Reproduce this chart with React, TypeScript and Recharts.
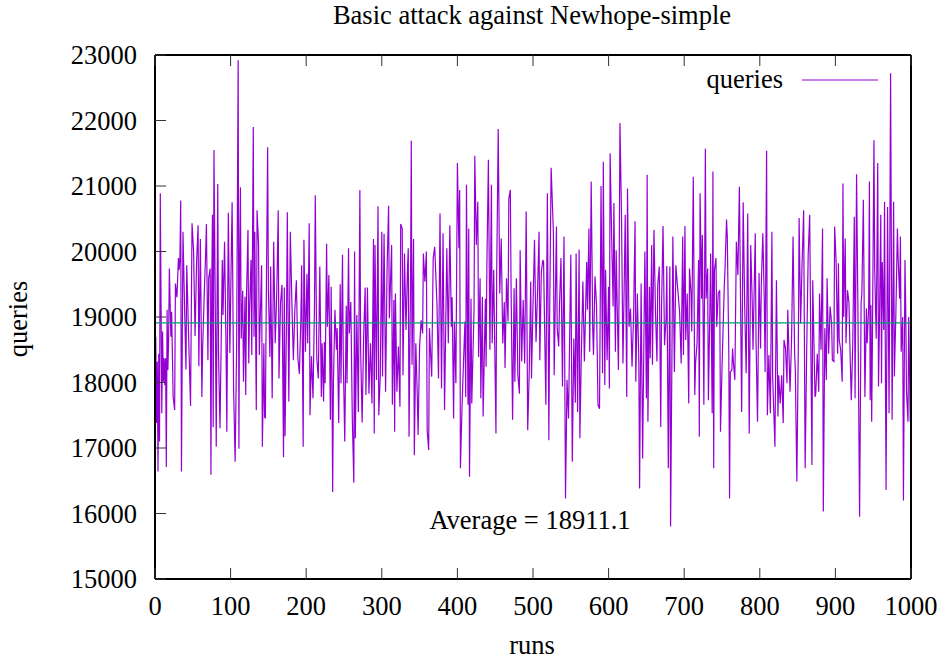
import { LineChart, Line, XAxis, YAxis, ReferenceLine } from "recharts";

// run index and number of queries
const runs = [
  0, 1, 2, 3, 4, 5, 6, 7, 9, 10,
  11, 12, 13, 14, 15, 16, 17, 18, 19, 21,
  22, 24, 26, 27, 29, 31, 32, 33, 34, 35,
  37, 39, 41, 42, 44, 47, 49, 51, 53, 55,
  57, 58, 60, 62, 63, 65, 67, 68, 70, 71,
  73, 74, 75, 76, 77, 78, 80, 81, 83, 84,
  86, 89, 90, 92, 94, 95, 97, 99, 101, 102,
  104, 106, 108, 110, 111, 112, 113, 114, 116, 117,
  119, 120, 121, 123, 124, 125, 127, 128, 130, 131,
  132, 134, 135, 137, 138, 141, 142, 143, 144, 145,
  146, 147, 149, 150, 152, 153, 155, 156, 157, 159,
  161, 163, 164, 166, 168, 170,
  171, 172, 174, 175, 177, 179, 181, 182, 183, 185,
  187, 189, 191, 193, 194, 196, 197, 199, 201, 202,
  204, 205, 207, 209, 211, 212, 214, 216, 218, 220,
  221, 223, 224, 225, 227, 228, 230, 232, 233, 234,
  235, 236, 238, 240, 241, 243, 245, 246, 248, 249,
  251, 253, 254, 256, 257, 259, 261, 263, 264, 265,
  267, 269, 271, 272, 274, 276, 278, 279, 281, 283,
  285, 287, 289, 290, 291, 293, 295, 296, 298, 300,
  301, 303, 305, 307, 309, 310, 313, 314, 316, 317,
  318, 320, 322, 324, 325, 327, 328, 330, 332, 334,
  335, 336, 338, 339, 340, 342, 343,
  345, 347, 348, 350, 352, 354, 355, 357, 359, 360,
  362, 363, 366, 368, 370, 373, 375, 377, 379, 381,
  383, 386, 388, 390, 392, 393, 395, 396, 398, 400,
  402, 403, 404, 406, 408, 410, 411, 412, 414, 415,
  416, 418, 419, 422, 423, 425, 427, 428, 430, 431,
  433, 434, 437, 438, 439, 441, 443, 445, 446, 448,
  451, 452, 454, 456, 458, 460, 462, 463, 465, 467,
  468, 470, 471, 473, 475, 476, 478, 480, 482, 483,
  485, 487, 489, 491, 493, 495, 497, 498, 500, 502,
  504, 506, 508, 509, 511, 513,
  514, 517, 519, 521, 522, 524, 527, 528, 531, 532,
  534, 535, 537, 539, 541, 543, 545, 547, 550, 552,
  554, 556, 557, 559, 561, 562, 564, 566, 568, 571,
  572, 574, 575, 577, 579, 580, 582, 584, 586, 588,
  590, 592, 593, 595, 596, 598, 600, 601, 602, 604,
  606, 607, 609, 610, 613, 614, 615, 617, 619, 621,
  622, 624, 625, 627, 629, 631, 633, 635, 636, 638,
  640, 641, 643, 645, 647, 648, 650, 651, 652, 654,
  655, 657, 658, 660, 662, 664, 665, 667, 669, 670,
  672, 674, 676, 677, 679, 681, 682, 685, 687,
  689, 691, 694, 696, 698, 699, 701, 702, 704, 706,
  707, 709, 710, 712, 714, 715, 717, 719, 720, 721,
  723, 724, 726, 728, 729, 731, 732, 734, 735, 737,
  738, 739, 740, 742, 743, 745, 747, 748, 750, 753,
  754, 756, 757, 759, 760, 761, 763, 764, 765, 767,
  769, 771, 773, 775, 776, 778, 780, 782, 784, 786,
  788, 790, 791, 794, 795, 797, 799, 801, 802, 804,
  806, 807, 809, 810, 812, 814, 816, 817, 820, 822,
  824, 825, 827, 829, 831, 832, 834, 836, 837, 840,
  842, 844, 846, 847, 849, 851, 852, 854, 856, 858,
  860,
  862, 864, 866, 867, 869, 870, 873, 874, 876, 878,
  879, 881, 883, 884, 886, 888, 889, 891, 893, 895,
  896, 898, 899, 901, 903, 904, 905, 907, 909, 910,
  911, 913, 914, 916, 918, 919, 921, 923, 925, 926,
  928, 930, 932, 934, 935, 937, 939, 941, 942, 944,
  945, 946, 947, 948, 949, 951, 952, 954, 956, 957,
  958, 960, 961, 962, 964, 965, 967, 969, 971, 973,
  975, 977, 978, 980, 982, 983, 985, 986, 987, 989,
  990, 992, 993, 994, 996, 997, 999,
];

const queries = [
  18300, 18700, 17380, 18320, 16640, 18440, 17100, 20890, 17530, 18780,
  18010, 18370, 17960, 18370, 16710, 19110, 18190, 18650, 19740, 18700,
  19080, 17780, 17580, 19510, 19300, 19900, 19720, 19920, 20780, 16640,
  20300, 19200, 18200, 19790, 18900, 17640, 20430, 20020, 18710, 19840,
  20400, 18250, 20190, 17780, 18520, 19300, 19970, 20420, 18340, 19590,
  19740, 16590, 19410, 20560, 17320, 21550, 18800, 17020, 21030, 18440,
  17300, 19870, 19030, 20150, 18500, 17250, 20590, 18450, 20020, 20750,
  17880, 16790, 18570, 22920, 16990, 19870, 20980, 18670, 19400, 18010,
  19310, 17810, 19310, 20330, 18290, 19100, 19870, 18420, 21900, 18700,
  20300, 17580, 20630, 20100, 18420, 19790, 17020, 17730, 18600, 17480,
  17450, 19000, 21590, 19410, 18390, 19770, 17760, 19000, 20150, 18600,
  19340, 20630, 18060, 19210, 19490, 16860,
  19450, 17180, 19000, 20600, 17710, 20300, 19260, 18800, 18340, 19110,
  19560, 18370, 18130, 19000, 19790, 17020, 20180, 18470, 19660, 18600,
  20430, 17500, 18400, 17760, 19200, 20860, 18370, 18060, 19770, 17780,
  18600, 17710, 18620, 17990, 20120, 18850, 19640, 17430, 19460, 18220,
  16330, 18000, 19110, 18500, 18830, 17380, 19500, 17990, 19950, 18400,
  17100, 19170, 17990, 20050, 18750, 19230, 17450, 16470, 20000, 17150,
  19030, 17550, 20940, 18500, 17390, 18720, 19450, 17810, 19450, 17830,
  18600, 17680, 20190, 17220, 20100, 18040, 20690, 17500, 18110, 20300,
  18090, 20270, 17860, 19740, 20700, 18980, 20100, 17660, 19260, 17250,
  19360, 17860, 18550, 17630, 20420, 20350, 18110, 19970, 18800, 19740,
  20050, 17170, 19500, 21690, 18270, 20190, 16890,
  18600, 17780, 17200, 18550, 18950, 18750, 19970, 19540, 20000, 17270,
  16970, 18830, 18090, 19900, 20070, 19180, 18060, 20580, 17910, 20280,
  17580, 20050, 18600, 20400, 18850, 19300, 17450, 18930, 17990, 21350,
  20050, 20940, 16690, 17580, 18290, 18930, 17780, 21020, 17660, 20350,
  16560, 19280, 17680, 19110, 21460, 20100, 20760, 18390, 19590, 17760,
  19310, 17480, 19280, 18240, 19790, 21400, 18500, 21020, 18600, 19720,
  17220, 19690, 21870, 19360, 20200, 18600, 19230, 18220, 19590, 18930,
  20810, 20940, 19440, 17430, 19440, 18010, 19590, 18110, 17830, 20020,
  18320, 19260, 18290, 20610, 17270, 18160, 19540, 18060, 19180, 20180,
  18620, 19390, 20300, 18340, 19690, 19870,
  19840, 17660, 20890, 17120, 19000, 21280, 20280, 18110, 20380, 18830,
  18550, 19160, 19900, 17940, 20230, 16230, 18040, 17450, 19950, 16790,
  18670, 17690, 19970, 17550, 20030, 17150, 18470, 19540, 18320, 19840,
  19110, 20350, 18470, 21070, 18830, 18420, 19620, 19180, 17660, 17600,
  21000, 18140, 21370, 17960, 19720, 18340, 19460, 17910, 21500, 20250,
  19160, 20740, 18470, 20020, 18190, 19640, 21960, 20610, 18290, 19770,
  20560, 17780, 20960, 18850, 19130, 18240, 19000, 20460, 18010, 19360,
  18320, 16380, 19510, 16840, 18980, 20000, 17760, 21170, 17400, 19460,
  18370, 20100, 18270, 20330, 19080, 18320, 19490, 19770, 17320, 19130,
  20390, 18570, 18980, 19780, 16690, 19770, 15800, 20230, 18160,
  19790, 19490, 19060, 18290, 20230, 18420, 20390, 18650, 19360, 17680,
  19740, 19360, 18780, 21140, 17810, 18290, 18600, 19870, 17170, 20890,
  19280, 20250, 17660, 21570, 19280, 19740, 17730, 19130, 19970, 17530,
  21220, 16690, 19720, 19900, 18850, 19360, 19410, 17250, 18220, 19460,
  19740, 20490, 20230, 18440, 16230, 18160, 18190, 18520, 18320, 18040,
  20150, 19640, 20990, 18720, 17550, 20750, 19180, 18140, 20580, 17220,
  20100, 19210, 18500, 20280, 18650, 17400, 19670, 18520, 19510, 20280,
  19210, 18160, 21540, 17500, 18420, 17530, 20300, 18090, 17020, 19560,
  17480, 18110, 17680, 18110, 17380, 18650, 18520, 17990, 19110, 17860,
  18650, 20230, 18470, 18190, 16490, 18600, 20510, 18900, 19840, 20630,
  16690,
  18470, 19950, 20560, 19180, 16740, 19560, 17780, 17830, 18440, 17860,
  19360, 18500, 20350, 16030, 18830, 18040, 19590, 18440, 19160, 18900,
  18340, 18320, 20380, 19820, 18440, 19820, 18650, 18500, 18010, 21040,
  19000, 20200, 18600, 19410, 19210, 18650, 17730, 18600, 20530, 17760,
  21180, 18850, 15950, 19210, 19360, 20790, 17780, 19130, 18600, 19160,
  21070, 17730, 19180, 17400, 18700, 21700, 19720, 18670, 21350, 17940,
  18670, 20560, 17990, 19840, 18800, 20760, 16360, 20680, 17530, 22720,
  17430, 20760, 18090, 19060, 20350, 19900, 19280, 20230, 18470, 19000,
  16200, 19870, 19160, 17880, 17400, 19000, 17400,
];

const xTicks = [0, 100, 200, 300, 400, 500, 600, 700, 800, 900, 1000];
const yTicks = [15000, 16000, 17000, 18000, 19000, 20000, 21000, 22000, 23000];
const average = 18911.1;

const data = runs.map((run, i) => ({ run, queries: queries[i] }));

const FONT = '"Liberation Serif", "Times New Roman", serif';
const FS = 26.5;
const TICK = "#333";
const PURPLE = "#9400d3";
const GREEN = "#009e73";

function BottomTick({ x, y, payload }: any) {
  return (
    <g>
      <line x1={x} y1={y} x2={x} y2={y - 11} stroke={TICK} strokeWidth={1} />
      <text x={x} y={y + 36} textAnchor="middle" fontFamily={FONT} fontSize={FS} fill="#000">
        {payload.value}
      </text>
    </g>
  );
}

function TopTick({ x, y }: any) {
  return <line x1={x} y1={y} x2={x} y2={y + 11} stroke={TICK} strokeWidth={1} />;
}

function LeftTick({ x, y, payload }: any) {
  return (
    <g>
      <line x1={x} y1={y} x2={x + 11} y2={y} stroke={TICK} strokeWidth={1} />
      <text x={x - 18} y={y + 9} textAnchor="end" fontFamily={FONT} fontSize={FS} fill="#000">
        {payload.value}
      </text>
    </g>
  );
}

function RightTick({ x, y }: any) {
  return <line x1={x} y1={y} x2={x - 11} y2={y} stroke={TICK} strokeWidth={1} />;
}

export default function App() {
  const axisLine = { stroke: "#000", strokeWidth: 2 };
  return (
    <div style={{ position: "absolute", left: 0, top: 0, width: 946, height: 660, background: "#fff" }}>
      <LineChart width={946} height={660} data={data} margin={{ top: 0, right: 0, bottom: 0, left: 0 }}>
        <XAxis
          xAxisId="b"
          dataKey="run"
          type="number"
          domain={[0, 1000]}
          ticks={xTicks}
          interval={0}
          height={81}
          tickSize={0}
          tickMargin={0}
          tickLine={false}
          axisLine={axisLine}
          tick={<BottomTick />}
        />
        <XAxis
          xAxisId="t"
          orientation="top"
          dataKey="run"
          type="number"
          domain={[0, 1000]}
          ticks={xTicks}
          interval={0}
          height={55}
          tickSize={0}
          tickMargin={0}
          tickLine={false}
          axisLine={axisLine}
          tick={<TopTick />}
        />
        <YAxis
          yAxisId="l"
          type="number"
          domain={[15000, 23000]}
          ticks={yTicks}
          interval={0}
          width={155}
          tickSize={0}
          tickMargin={0}
          tickLine={false}
          axisLine={axisLine}
          tick={<LeftTick />}
        />
        <YAxis
          yAxisId="r"
          orientation="right"
          type="number"
          domain={[15000, 23000]}
          ticks={yTicks}
          interval={0}
          width={35}
          tickSize={0}
          tickMargin={0}
          tickLine={false}
          axisLine={axisLine}
          tick={<RightTick />}
        />
        <Line
          xAxisId="b"
          yAxisId="l"
          type="linear"
          dataKey="queries"
          stroke={PURPLE}
          strokeWidth={1.2}
          dot={false}
          isAnimationActive={false}
        />
        <ReferenceLine xAxisId="b" yAxisId="l" y={average} stroke={GREEN} strokeWidth={1.2} />
      </LineChart>
      <svg
        width={946}
        height={660}
        style={{ position: "absolute", left: 0, top: 0, pointerEvents: "none" }}
        fontFamily={FONT}
        fontSize={FS}
      >
        <text x={532} y={24} textAnchor="middle">Basic attack against Newhope-simple</text>
        <text x={783} y={88} textAnchor="end">queries</text>
        <line x1={802} y1={80} x2={878} y2={80} stroke={PURPLE} strokeWidth={1.2} />
        <text x={530} y={529} textAnchor="middle">Average = {average}</text>
        <text x={532} y={654} textAnchor="middle">runs</text>
        <text x={27} y={319} textAnchor="middle" transform="rotate(-90 27 319)">queries</text>
      </svg>
    </div>
  );
}
